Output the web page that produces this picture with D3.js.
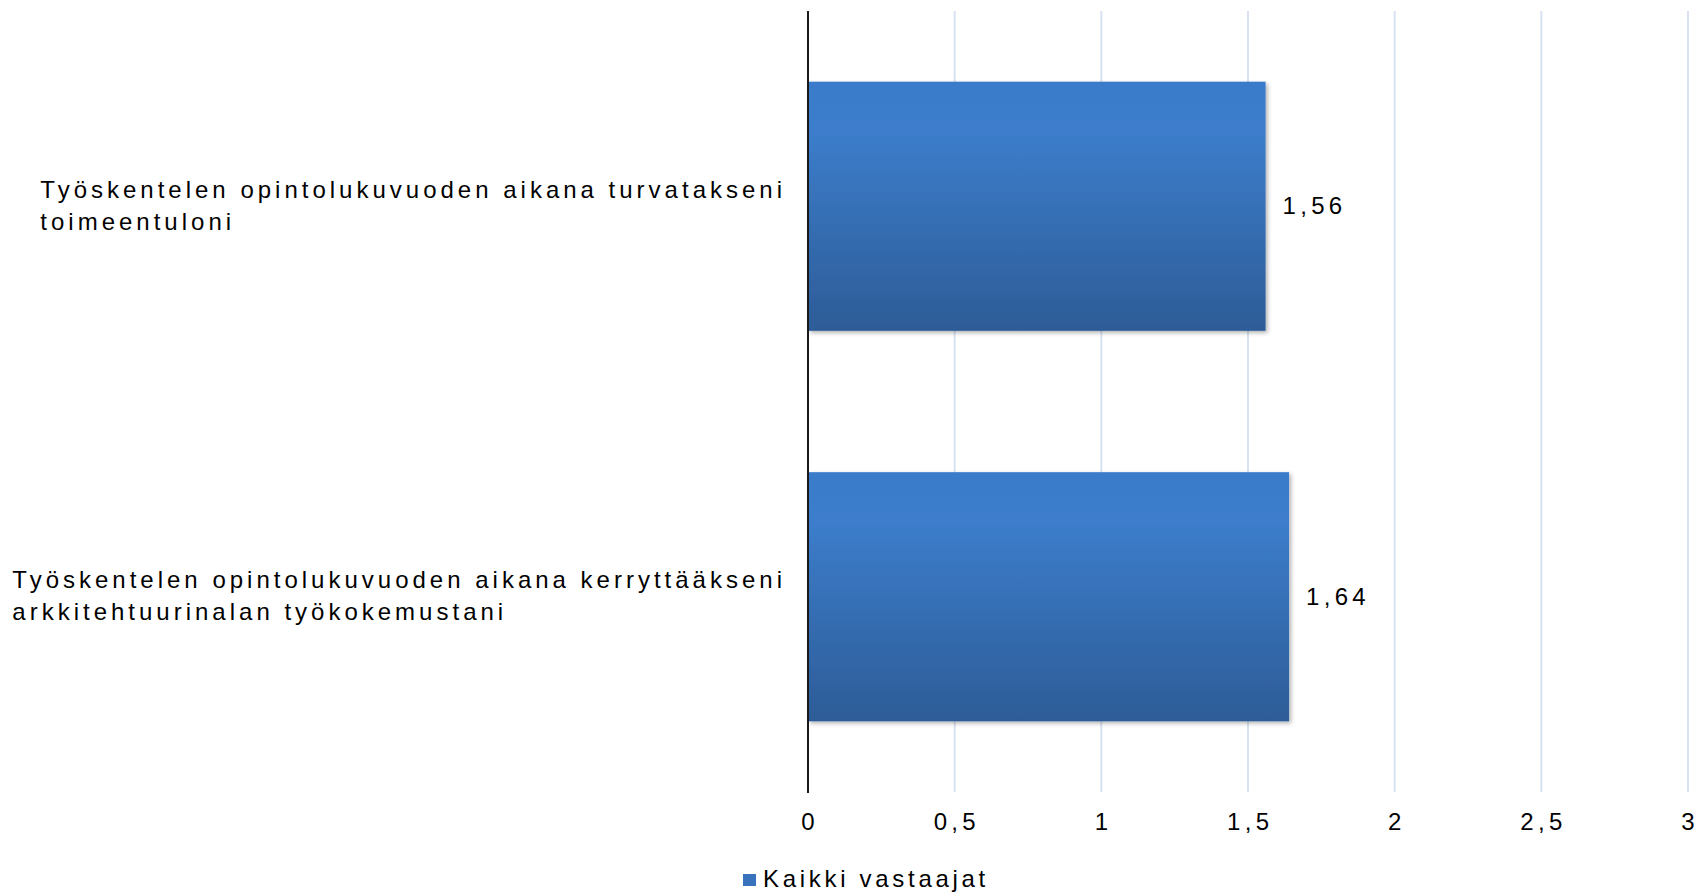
<!DOCTYPE html>
<html>
<head>
<meta charset="utf-8">
<script src="https://cdn.jsdelivr.net/npm/d3@7"></script>
<style>
  html, body { margin: 0; padding: 0; background: #fff; }
  svg { display: block; }
  text { font-family: "Liberation Sans", Arial, sans-serif; fill: #000; }
</style>
</head>
<body>
<svg id="chart" width="1700" height="896"></svg>
<script>
// ---- data ----
const categories = [
  ["Työskentelen opintolukuvuoden aikana turvatakseni", "toimeentuloni"],
  ["Työskentelen opintolukuvuoden aikana kerryttääkseni", "arkkitehtuurinalan työkokemustani"]
];
const values = [1.56, 1.64];
const valueLabels = ["1,56", "1,64"];
const xTicks = [0, 0.5, 1, 1.5, 2, 2.5, 3];
const xTickLabels = ["0", "0,5", "1", "1,5", "2", "2,5", "3"];
const seriesName = "Kaikki vastaajat";

// ---- layout ----
const svg = d3.select("#chart");
const plotLeft = 808, plotRight = 1688, plotTop = 11, plotBottom = 792;
const fs = 24, textLS = 4.0, numLS = 4.3, legendLS = 3.7;

const x = d3.scaleLinear().domain([0, 3]).range([plotLeft, plotRight]);
const y = d3.scaleBand().domain(d3.range(categories.length))
  .range([plotTop, plotBottom]).paddingInner(0.362).paddingOuter(0.181);

const defs = svg.append("defs");
const grad = defs.append("linearGradient").attr("id", "barGrad")
  .attr("x1", 0).attr("y1", 0).attr("x2", 0).attr("y2", 1);
grad.append("stop").attr("offset", "0").attr("stop-color", "#3a7bca");
grad.append("stop").attr("offset", "0.2").attr("stop-color", "#3c7dcb");
grad.append("stop").attr("offset", "1").attr("stop-color", "#2d5c97");

const shadow = defs.append("filter").attr("id", "shadow")
  .attr("x", "-5%").attr("y", "-5%").attr("width", "115%").attr("height", "120%");
shadow.append("feDropShadow").attr("dx", 2).attr("dy", 2).attr("stdDeviation", 2)
  .attr("flood-color", "#000").attr("flood-opacity", 0.3);

// gridlines
svg.append("g").selectAll("line").data(xTicks.filter(d => d > 0)).join("line")
  .attr("x1", d => x(d)).attr("x2", d => x(d))
  .attr("y1", plotTop).attr("y2", plotBottom)
  .attr("stroke", "#d9e2f0").attr("stroke-width", 2);

// bars
svg.append("g").selectAll("rect").data(values).join("rect")
  .attr("x", x(0)).attr("y", (d, i) => y(i))
  .attr("width", d => x(d) - x(0)).attr("height", y.bandwidth())
  .attr("fill", "url(#barGrad)").attr("filter", "url(#shadow)");

// vertical axis line
svg.append("line").attr("x1", x(0)).attr("x2", x(0))
  .attr("y1", plotTop).attr("y2", plotBottom + 1)
  .attr("stroke", "#1a1a1a").attr("stroke-width", 2);

// x tick labels
svg.append("g").selectAll("text").data(xTicks).join("text")
  .attr("x", d => x(d) + numLS / 2).attr("y", 830)
  .attr("text-anchor", "middle").attr("font-size", fs).attr("letter-spacing", numLS)
  .text((d, i) => xTickLabels[i]);

// category labels: left-aligned block, right edge of longest line at 782
const cat = svg.append("g").selectAll("text").data(categories).join("text")
  .attr("font-size", fs).attr("letter-spacing", textLS);
cat.each(function(lines, i) {
  const cy = y(i) + y.bandwidth() / 2;
  const t = d3.select(this);
  const spans = t.selectAll("tspan").data(lines).join("tspan")
    .attr("y", (l, j) => cy - 8.5 + j * 32)
    .text(l => l);
  let maxW = 0;
  spans.each(function() { maxW = Math.max(maxW, this.getComputedTextLength()); });
  spans.attr("x", 782 + textLS - maxW);
});

// value labels
svg.append("g").selectAll("text").data(values).join("text")
  .attr("x", d => x(d) + 17).attr("y", (d, i) => y(i) + y.bandwidth() / 2 + 8)
  .attr("font-size", fs).attr("letter-spacing", numLS)
  .text((d, i) => valueLabels[i]);

// legend
svg.append("rect").attr("x", 743).attr("y", 874).attr("width", 13).attr("height", 12)
  .attr("fill", "#3a73bd");
svg.append("text").attr("x", 763).attr("y", 887)
  .attr("font-size", fs).attr("letter-spacing", legendLS).text(seriesName);
</script>
</body>
</html>
